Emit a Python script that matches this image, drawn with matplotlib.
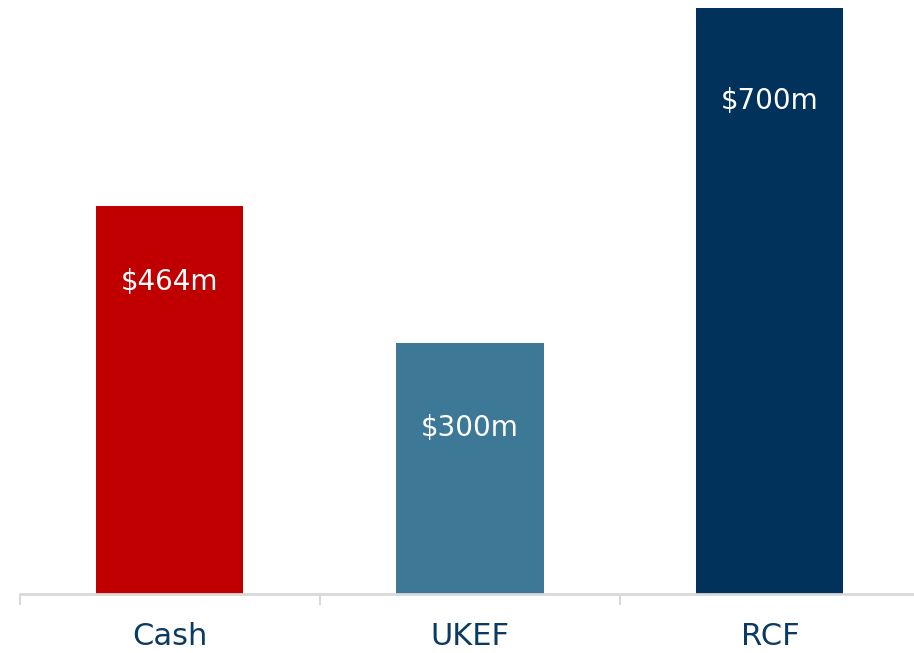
import matplotlib.pyplot as plt

# Dados do gráfico
categorias = ['Cash', 'UKEF', 'RCF']
valores = [464, 300, 700]
rotulos = ['$464m', '$300m', '$700m']
cores = ['#C00000', '#3D7896', '#00325C']

# distância (pixels) do rótulo abaixo do topo da barra
desloc_px = [76, 85, 93]

fig = plt.figure(figsize=(9.14, 6.53), dpi=100)
ax = fig.add_axes([20 / 914, 59 / 653, 900 / 914, 586 / 653])

x = list(range(len(categorias)))
barras = ax.bar(x, valores, width=0.49, color=cores)

for b, rot, d in zip(barras, rotulos, desloc_px):
    ax.annotate(rot, (b.get_x() + b.get_width() / 2, b.get_height()),
                xytext=(0, -d * 0.72), textcoords='offset points',
                ha='center', va='center', color='white', fontsize=20)

ax.set_xlim(-0.5, 2.5)
ax.set_ylim(0, 700)
ax.set_yticks([])
for s in ['top', 'right', 'left']:
    ax.spines[s].set_visible(False)
ax.spines['bottom'].set_color('#d9d9d9')
ax.spines['bottom'].set_linewidth(2)

ax.set_xticks(x)
ax.set_xticklabels(categorias, fontsize=22, color='#0B3A62')
ax.tick_params(axis='x', which='major', length=0, pad=20)
ax.set_xticks([-0.5, 0.5, 1.5, 2.5], minor=True)
ax.tick_params(axis='x', which='minor', length=8, width=1.5, color='#d9d9d9')

fig.savefig('out.png', dpi=100)
